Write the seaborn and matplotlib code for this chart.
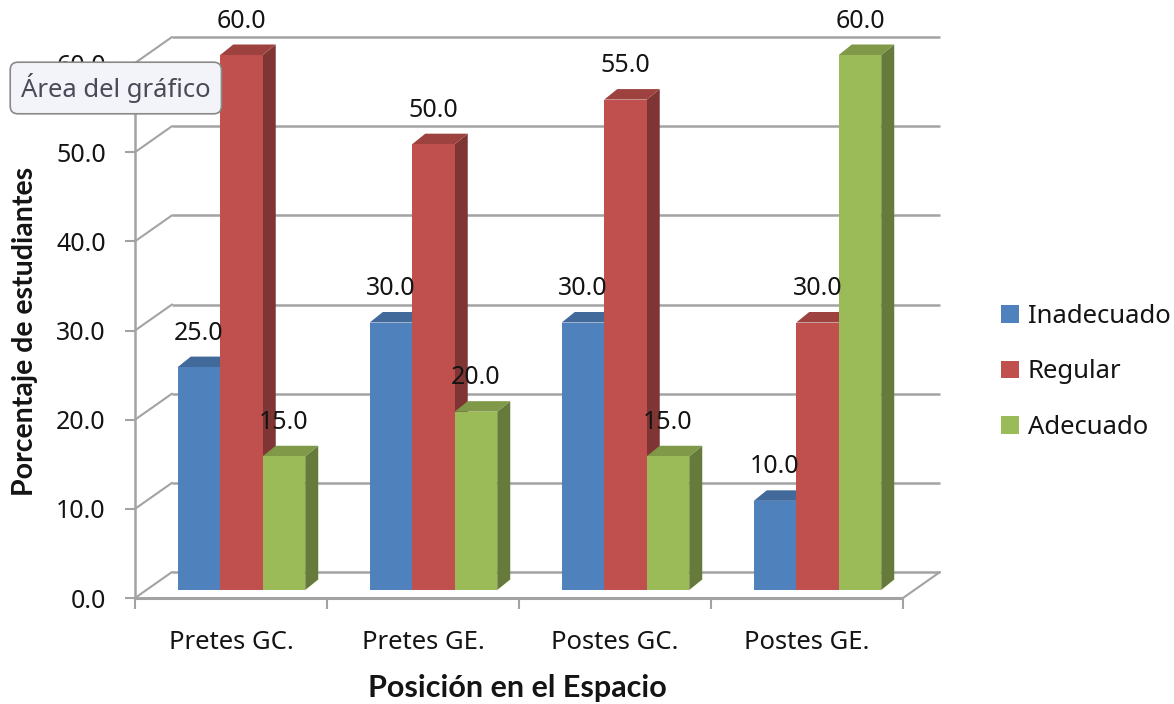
import numpy as np
import pandas as pd
import matplotlib
matplotlib.use("Agg")
import matplotlib.pyplot as plt
import matplotlib.colors as mcolors
from matplotlib.patches import Polygon, Patch, Rectangle
import seaborn as sns

# ---- data ----
categories = ["Pretes GC.", "Pretes GE.", "Postes GC.", "Postes GE."]
series = ["Inadecuado", "Regular", "Adecuado"]
inadecuado = [25.0, 30.0, 30.0, 10.0]
regular = [60.0, 50.0, 55.0, 30.0]
adecuado = [15.0, 20.0, 15.0, 60.0]
y_ticks = [0, 10, 20, 30, 40, 50, 60]
colors = ["#4F81BD", "#C0504D", "#9BBB59"]

df = pd.DataFrame({
    "categoria": categories * 3,
    "serie": [s for s in series for _ in categories],
    "valor": inadecuado + regular + adecuado,
})

sns.set_theme(style="white")
plt.rcParams["font.family"] = ["Noto Sans", "DejaVu Sans"]
TXT = "#141414"

W, H = 1174, 704
fig = plt.figure(figsize=(W / 100, H / 100), dpi=100)
fig.patch.set_facecolor("white")
# front plane of the 3-D box, in pixels: x 135..903, y 598 (0) .. 63 (60)
ax = fig.add_axes([135 / W, 1 - 598 / H, (903 - 135) / W, (598 - 63) / H])

sns.barplot(data=df, x="categoria", y="valor", hue="serie", order=categories,
            hue_order=series, palette=colors, saturation=1, width=0.664,
            linewidth=0, edgecolor="none", legend=False, ax=ax)
bars = sorted([p for p in ax.patches if isinstance(p, Rectangle)],
              key=lambda p: p.get_x())

ax.set_xlim(-0.5, 3.5)
ax.set_ylim(0, 60)
ax.patch.set_alpha(0)

# pixel -> data unit conversion for depth offsets
px_x = (903 - 135) / 4.0
px_y = (598 - 63) / 60.0
def dx(p):
    return p / px_x
def dy(p):
    return p / px_y

WALL = (37, 26)      # depth of the box
SHIFT = (10.5, 8)    # bars sit a little behind the front plane
BAR = (13, 10.5)     # depth of each bar
grid_c = "#a3a3a3"

# ---- walls and floor ----
for v in y_ticks:
    # back wall gridline
    ax.plot([-0.5 + dx(WALL[0]), 3.5 + dx(WALL[0])], [v + dy(WALL[1])] * 2,
            color=grid_c, lw=1.8, clip_on=False, zorder=1, solid_capstyle="butt")
    # side wall diagonal
    ax.plot([-0.5, -0.5 + dx(WALL[0])], [v, v + dy(WALL[1])],
            color=grid_c, lw=1.5, clip_on=False, zorder=1)
ax.plot([-0.5, -0.5], [0, 60], color=grid_c, lw=1.8, clip_on=False, zorder=1)
floor = Polygon([(-0.5, 0), (3.5, 0), (3.5 + dx(WALL[0]), dy(WALL[1])),
                 (-0.5 + dx(WALL[0]), dy(WALL[1]))], closed=True,
                facecolor="white", edgecolor="none", zorder=0.5, clip_on=False)
ax.add_patch(floor)
ax.plot([-0.5, 3.5], [0, 0], color=grid_c, lw=2.2, clip_on=False, zorder=2,
        solid_capstyle="butt")
ax.plot([3.5, 3.5 + dx(WALL[0])], [0, dy(WALL[1])], color=grid_c, lw=1.5,
        clip_on=False, zorder=2)

# ---- 3-D bars built from the seaborn rectangles ----
for i, b in enumerate(bars):
    x0 = b.get_x() + dx(SHIFT[0])
    w = b.get_width()
    h = b.get_height()
    y0 = dy(SHIFT[1])
    b.set_x(x0)
    b.set_y(y0)
    base = np.array(mcolors.to_rgb(b.get_facecolor()))
    z = 5 + i * 0.01
    b.set_zorder(z + 0.003)
    b.set_clip_on(False)
    top = Polygon([(x0, y0 + h), (x0 + w, y0 + h),
                   (x0 + w + dx(BAR[0]), y0 + h + dy(BAR[1])),
                   (x0 + dx(BAR[0]), y0 + h + dy(BAR[1]))], closed=True,
                  facecolor=base * 0.82, edgecolor="none", zorder=z + 0.002,
                  clip_on=False)
    side = Polygon([(x0 + w, y0), (x0 + w + dx(BAR[0]), y0 + dy(BAR[1])),
                    (x0 + w + dx(BAR[0]), y0 + h + dy(BAR[1])),
                    (x0 + w, y0 + h)], closed=True,
                   facecolor=base * 0.66, edgecolor="none", zorder=z + 0.001,
                   clip_on=False)
    ax.add_patch(top)
    ax.add_patch(side)
    ax.annotate(f"{h:.1f}", xy=(x0 + w / 2, y0 + h), xytext=(0, 34),
                textcoords="offset pixels", ha="center", va="center",
                fontsize=18, color=TXT, zorder=20, annotation_clip=False)

# ---- axes, ticks, labels ----
for s in ax.spines.values():
    s.set_visible(False)
ax.set_yticks(y_ticks)
ax.set_yticklabels([f"{v:.1f}" for v in y_ticks])
ax.set_xticks(range(len(categories)))
ax.set_xticklabels(categories)
ax.set_xticks([-0.5, 0.5, 1.5, 2.5, 3.5], minor=True)
ax.tick_params(axis="y", which="major", length=7, width=1.5, color=grid_c,
               pad=14, labelsize=18, labelcolor=TXT, left=True)
ax.tick_params(axis="x", which="major", length=0, pad=23, labelsize=18.5,
               labelcolor=TXT)
ax.tick_params(axis="x", which="minor", length=8, width=1.5, color=grid_c,
               bottom=True, direction="out")
ax.set_xlabel("")
ax.set_ylabel("")

fig.text(517 / W, 1 - 688 / H, "Posición en el Espacio", ha="center",
         va="center", fontsize=22, fontweight="bold", color=TXT,
         family=["Lato", "DejaVu Sans"])
fig.text(25 / W, 1 - 331 / H, "Porcentaje de estudiantes", ha="center",
         va="center", rotation=90, fontsize=20.5, fontweight="bold",
         color=TXT, family=["Lato", "DejaVu Sans"])

handles = [Patch(facecolor=c, edgecolor="none", label=s)
           for c, s in zip(colors, series)]
fig.legend(handles=handles, loc="center left",
           bbox_to_anchor=(988 / W, 1 - 372 / H), frameon=False,
           fontsize=18.5, handlelength=0.7, handleheight=0.7,
           handletextpad=0.34, labelspacing=1.2, borderpad=0,
           labelcolor=TXT)

# chart-area tooltip
fig.text(21 / W, 1 - 88 / H, "Área del gráfico", ha="left", va="center",
         fontsize=18.5, color="#4a4a58", zorder=30,
         bbox=dict(boxstyle="round,pad=0.42,rounding_size=0.3",
                   facecolor="#f3f4f9", edgecolor="#8a8a8a", linewidth=1.2))

fig.savefig("out.png", dpi=100, facecolor="white")
